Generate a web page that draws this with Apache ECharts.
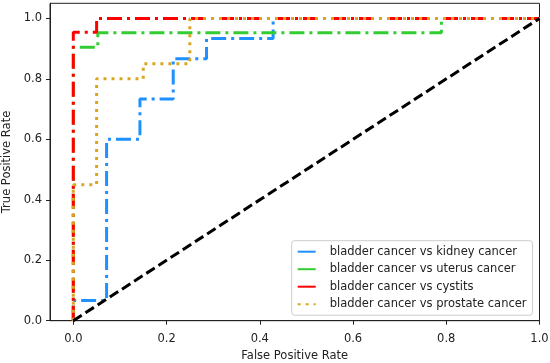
<!DOCTYPE html>
<html>
<head>
<meta charset="utf-8">
<script src="https://cdn.jsdelivr.net/npm/echarts@6/dist/echarts.min.js"></script>
<style>html,body{margin:0;padding:0;background:#fff;}#c{width:550px;height:363px;}</style>
</head>
<body>
<div id="c"></div>
<script>
var seriesNames = ['bladder cancer vs kidney cancer','bladder cancer vs uterus cancer','bladder cancer vs cystits','bladder cancer vs prostate cancer'];
var kidneyFpr = [0, 0, 0.0714, 0.0714, 0.1429, 0.1429, 0.2143, 0.2143, 0.2857, 0.2857, 0.4286, 0.4286, 1];
var kidneyTpr = [0, 0.0667, 0.0667, 0.6, 0.6, 0.7333, 0.7333, 0.8667, 0.8667, 0.9333, 0.9333, 1, 1];
var uterusFpr = [0, 0, 0.0526, 0.0526, 0.7895, 0.7895, 1];
var uterusTpr = [0, 0.9048, 0.9048, 0.9524, 0.9524, 1, 1];
var cystitisFpr = [0, 0, 0.05, 0.05, 1];
var cystitisTpr = [0, 0.9545, 0.9545, 1, 1];
var prostateFpr = [0, 0, 0.05, 0.05, 0.15, 0.15, 0.25, 0.25, 1];
var prostateTpr = [0, 0.45, 0.45, 0.8, 0.8, 0.85, 0.85, 1, 1];
var chanceFpr = [0, 1];
var chanceTpr = [0, 1];
var xTicks = [0, 0.2, 0.4, 0.6, 0.8, 1.0];
var yTicks = [0, 0.2, 0.4, 0.6, 0.8, 1.0];

function pairs(xs, ys) { return xs.map(function (x, i) { return [x, ys[i]]; }); }

var FONT = 'DejaVu Sans';
var FS = 11.5;
var dashDot = [15, 5, 3, 5];
var dotted = [3, 5];
var colors = ['#1E90FF', '#32CD32', '#FF0000', '#DAA520'];
var chart = echarts.init(document.getElementById('c'), null, {renderer: 'canvas'});
chart.setOption({
  animation: false,
  backgroundColor: '#fff',
  grid: {left: 50, right: 10.5, top: 3.3, bottom: 42.3, outerBoundsMode: 'none', containLabel: false, show: true, borderColor: '#222', borderWidth: 1, backgroundColor: 'transparent'},
  xAxis: {
    type: 'value', min: -0.05, max: 1.0,
    name: 'False Positive Rate', nameLocation: 'middle', nameGap: 29,
    nameTextStyle: {fontFamily: FONT, fontSize: FS, color: '#222'},
    axisLine: {show: true, onZero: false, lineStyle: {color: '#222', width: 1}},
    axisTick: {show: true, length: 4, customValues: xTicks, lineStyle: {color: '#222'}},
    axisLabel: {customValues: xTicks, margin: 12, fontFamily: FONT, fontSize: FS, color: '#222', formatter: function (v) { return v.toFixed(1); }},
    splitLine: {show: false}
  },
  yAxis: {
    type: 'value', min: 0, max: 1.05,
    name: 'True Positive Rate', nameLocation: 'middle', nameGap: 35,
    nameTextStyle: {fontFamily: FONT, fontSize: FS, color: '#222'},
    axisLine: {show: true, onZero: false, lineStyle: {color: '#222', width: 1}},
    axisTick: {show: true, length: 4, customValues: yTicks, lineStyle: {color: '#222'}},
    axisLabel: {customValues: yTicks, margin: 8, fontFamily: FONT, fontSize: FS, color: '#222', formatter: function (v) { return v.toFixed(1); }},
    splitLine: {show: false}
  },
  legend: {
    orient: 'vertical', left: 291.7, top: 240.7,
    padding: [5, 6, 5, 5],
    backgroundColor: 'rgba(255,255,255,0.8)', borderColor: '#ccc', borderWidth: 1, borderRadius: 3,
    itemWidth: 18, itemHeight: 8, itemGap: 5.5,
    itemStyle: {opacity: 0},
    textStyle: {fontFamily: FONT, fontSize: FS, color: '#222', padding: [0, 0, 0, 9]},
    data: [
      {name: seriesNames[0], lineStyle: {type: 'solid'}},
      {name: seriesNames[1], lineStyle: {type: 'solid'}},
      {name: seriesNames[2], lineStyle: {type: 'solid'}},
      {name: seriesNames[3], lineStyle: {type: dotted}}
    ]
  },
  series: [
    {name: seriesNames[0], type: 'line', symbol: 'none', data: pairs(kidneyFpr, kidneyTpr), lineStyle: {color: colors[0], width: 3, type: dashDot}, itemStyle: {color: colors[0]}},
    {name: seriesNames[1], type: 'line', symbol: 'none', data: pairs(uterusFpr, uterusTpr), lineStyle: {color: colors[1], width: 3, type: dashDot}, itemStyle: {color: colors[1]}},
    {name: seriesNames[2], type: 'line', symbol: 'none', data: pairs(cystitisFpr, cystitisTpr), lineStyle: {color: colors[2], width: 3, type: dashDot}, itemStyle: {color: colors[2]}},
    {name: seriesNames[3], type: 'line', symbol: 'none', data: pairs(prostateFpr, prostateTpr), lineStyle: {color: colors[3], width: 3, type: dotted}, itemStyle: {color: colors[3]}},
    {name: 'chance', type: 'line', symbol: 'none', data: pairs(chanceFpr, chanceTpr), lineStyle: {color: '#000', width: 3, type: [10, 4.5]}, itemStyle: {color: '#000'}}
  ]
});
</script>
</body>
</html>
